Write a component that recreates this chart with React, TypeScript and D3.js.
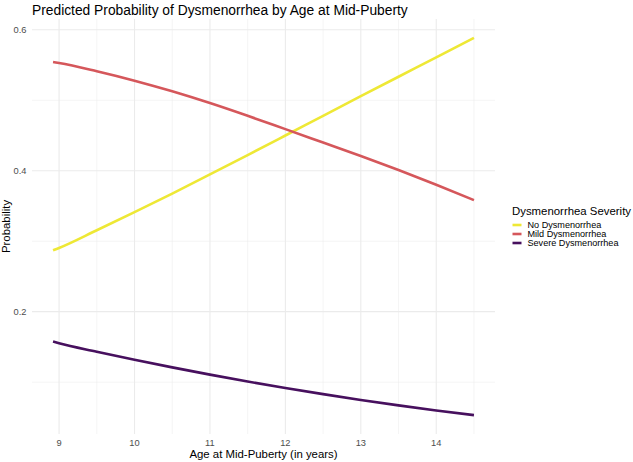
import React from 'react';
import * as d3 from 'd3';

const ages = [8.92, 9, 9.5, 10, 10.5, 11, 11.5, 12, 12.5, 13, 13.5, 14, 14.5];
const noDysmenorrhea = [0.2871, 0.2904, 0.3155, 0.3412, 0.3676, 0.3947, 0.4222, 0.45, 0.4779, 0.5057, 0.5333, 0.5608, 0.5885];
const mildDysmenorrhea = [0.5543, 0.5529, 0.5412, 0.5278, 0.5127, 0.496, 0.4779, 0.459, 0.44, 0.421, 0.401, 0.38, 0.3583];
const severeDysmenorrhea = [0.1576, 0.1552, 0.1432, 0.1318, 0.121, 0.1107, 0.1009, 0.0917, 0.083, 0.0748, 0.0671, 0.0599, 0.0532];

const seriesNames = ['No Dysmenorrhea', 'Mild Dysmenorrhea', 'Severe Dysmenorrhea'];
const seriesValues = [noDysmenorrhea, mildDysmenorrhea, severeDysmenorrhea];
const seriesColors = ['#EEE835', '#D5575B', '#47105E'];

const xTicks = [9, 10, 11, 12, 13, 14];
const xMinor = [9.5, 10.5, 11.5, 12.5, 13.5, 14.5];
const yTicks = [0.2, 0.4, 0.6];
const yMinor = [0.1, 0.3, 0.5];

const width = 633;
const height = 462;
const font = '"Liberation Sans", Arial, sans-serif';

// ggplot style 5% expansion
function expand([lo, hi]: [number, number]): [number, number] {
  const pad = (hi - lo) * 0.05;
  return [lo - pad, hi + pad];
}

export default function App() {
  const panel = { left: 32, right: 495, top: 19, bottom: 434 };

  const xDomain = expand(d3.extent(ages) as [number, number]);
  const allY = seriesValues.flat();
  const yDomain = expand(d3.extent(allY) as [number, number]);

  const x = d3.scaleLinear().domain(xDomain).range([panel.left, panel.right]);
  const y = d3.scaleLinear().domain(yDomain).range([panel.bottom, panel.top]);

  const line = d3
    .line<number>()
    .x((_, i) => x(ages[i]))
    .y((d) => y(d))
    .curve(d3.curveMonotoneX);

  const grid = '#EBEBEB';

  return (
    <svg
      width={width}
      height={height}
      style={{ position: 'absolute', left: 0, top: 0, background: '#fff' }}
      fontFamily={font}
    >
      {/* minor grid */}
      {xMinor.map((t) => (
        <line key={'xm' + t} x1={x(t)} x2={x(t)} y1={panel.top} y2={panel.bottom} stroke={grid} strokeWidth={0.55} />
      ))}
      {yMinor.map((t) => (
        <line key={'ym' + t} x1={panel.left} x2={panel.right} y1={y(t)} y2={y(t)} stroke={grid} strokeWidth={0.55} />
      ))}
      {/* major grid */}
      {xTicks.map((t) => (
        <line key={'xg' + t} x1={x(t)} x2={x(t)} y1={panel.top} y2={panel.bottom} stroke={grid} strokeWidth={1.1} />
      ))}
      {yTicks.map((t) => (
        <line key={'yg' + t} x1={panel.left} x2={panel.right} y1={y(t)} y2={y(t)} stroke={grid} strokeWidth={1.1} />
      ))}

      {/* lines */}
      {seriesValues.map((vals, i) => (
        <path key={seriesNames[i]} d={line(vals) || ''} fill="none" stroke={seriesColors[i]} strokeWidth={2.6} />
      ))}

      {/* tick labels */}
      {xTicks.map((t) => (
        <text key={'xl' + t} x={x(t)} y={446} fontSize={9.3} fill="#4D4D4D" textAnchor="middle">
          {t}
        </text>
      ))}
      {yTicks.map((t) => (
        <text key={'yl' + t} x={26.5} y={y(t) + 3.3} fontSize={9.3} fill="#4D4D4D" textAnchor="end">
          {t.toFixed(1)}
        </text>
      ))}

      {/* axis titles */}
      <text x={(panel.left + panel.right) / 2} y={457.5} fontSize={11.4} textAnchor="middle" fill="#000">
        Age at Mid-Puberty (in years)
      </text>
      <text
        transform={`translate(10,${(panel.top + panel.bottom) / 2}) rotate(-90)`}
        fontSize={11.4}
        textAnchor="middle"
        fill="#000"
      >
        Probability
      </text>

      {/* title */}
      <text x={32} y={14.5} fontSize={13.8} fill="#000">
        Predicted Probability of Dysmenorrhea by Age at Mid-Puberty
      </text>

      {/* legend */}
      <g>
        <text x={512} y={214.5} fontSize={11.4} fill="#000">
          Dysmenorrhea Severity
        </text>
        {seriesNames.map((name, i) => {
          const cy = 225 + i * 9;
          return (
            <g key={'lg' + name}>
              <line x1={512.5} x2={521.5} y1={cy} y2={cy} stroke={seriesColors[i]} strokeWidth={2.6} />
              <text x={527.5} y={cy + 3.2} fontSize={9.1} fill="#000">
                {name}
              </text>
            </g>
          );
        })}
      </g>
    </svg>
  );
}
